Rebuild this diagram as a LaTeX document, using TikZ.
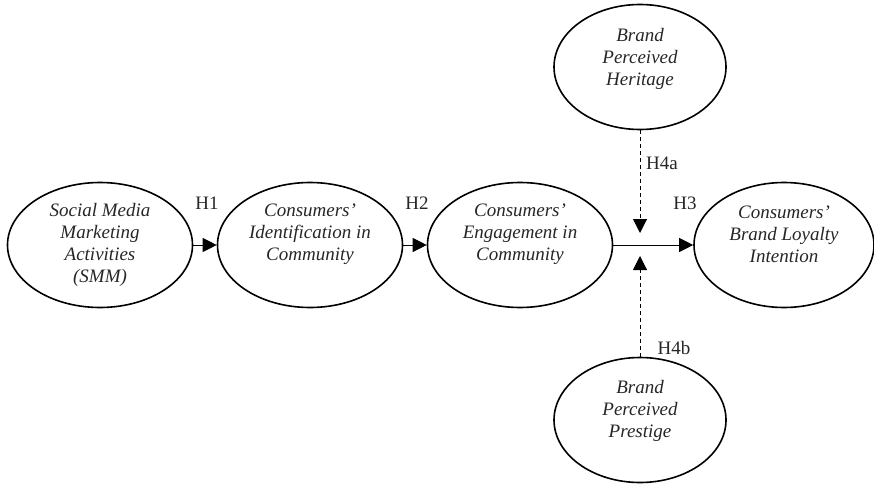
\documentclass[tikz,border=0pt]{standalone}
\usepackage{fontspec}
\setmainfont{Liberation Serif}
\usetikzlibrary{arrows.meta}
\usetikzlibrary{shapes.geometric}

\begin{document}
\begin{tikzpicture}[x=1pt, y=-1pt,
        construct/.style={draw, ellipse, line width=1.6pt, minimum width=185pt, minimum height=125pt, inner sep=0pt},
        cname/.style={align=center, font=\fontsize{19}{22}\selectfont\itshape, text=black!85},
        hyp/.style={font=\fontsize{19}{22}\selectfont, text=black!85},
        link/.style={line width=1pt, -{Triangle[length=14pt, width=14pt]}},
        modlink/.style={link, dash pattern=on 4pt off 3pt}]
        \useasboundingbox (0, 0) rectangle (874, 484);

        \node[construct] (smm) at (100, 245) {};
        \node[construct] (idn) at (310, 245) {};
        \node[construct] (eng) at (520, 245) {};
        \node[construct, minimum width=180pt] (loy) at (784, 245) {};
        \node[construct, minimum width=172pt] (her) at (640, 67) {};
        \node[construct, minimum width=172pt] (pre) at (640, 420) {};

        \node[cname] (smm-t) at (100, 245) {Social Media\\Marketing\\Activities\\(SMM)};
        \node[cname] (idn-t) at (310, 234) {Consumers'\\Identification in\\Community};
        \node[cname] (eng-t) at (520, 234) {Consumers'\\Engagement in\\Community};
        \node[cname] (loy-t) at (784, 234) {Consumers'\\Brand Loyalty\\Intention};
        \node[cname] (her-t) at (640, 59) {Brand\\Perceived\\Heritage};
        \node[cname] (pre-t) at (640, 411) {Brand\\Perceived\\Prestige};

        \coordinate (mtop) at (640, 233);
        \coordinate (mbot) at (640, 256);

        \draw[link] (smm) -- (idn);
        \draw[link] (idn) -- (eng);
        \draw[link] (eng) -- (loy);
        \draw[modlink] (her) -- (mtop);
        \draw[modlink] (pre) -- (mbot);

        \node[hyp] (h1) at (207, 203) {H1};
        \node[hyp] (h2) at (417, 203) {H2};
        \node[hyp] (h3) at (685, 203) {H3};
        \node[hyp] (h4a) at (662, 163) {H4a};
        \node[hyp] (h4b) at (674, 348) {H4b};
    \end{tikzpicture}
\end{document}
